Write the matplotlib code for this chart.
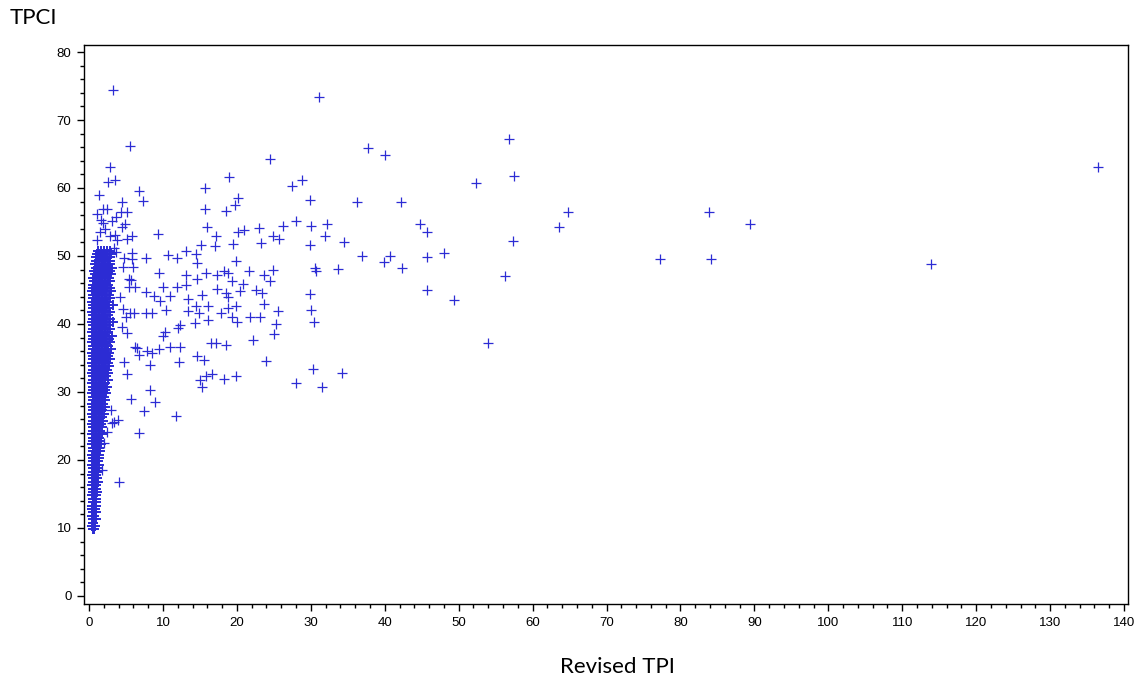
import matplotlib.pyplot as plt
from matplotlib.ticker import MultipleLocator

# Data: scattered points (Revised TPI, TPCI)
tpi = [3.2, 31.1, 5.5, 56.8, 37.7, 40.0, 24.5, 2.8, 136.5, 18.9, 28.8, 3.5, 57.5, 52.3,
       27.5, 15.7, 6.7, 1.3, 29.9, 36.3, 42.2, 7.3, 20.2, 19.8, 64.8, 83.8, 15.7, 18.5,
       32.2, 28.0, 44.8, 63.6, 89.4, 30.0, 26.2, 23.0, 16.0, 45.7, 31.9, 24.9, 25.7, 17.2,
       20.2, 21.0, 9.3, 57.3, 34.5, 23.3, 15.2, 19.5, 29.9, 17.0, 13.1, 48.0, 40.7, 36.9,
       45.7, 10.7, 14.5, 19.9, 77.3, 84.2, 39.9, 11.9, 7.7, 14.6, 113.9, 56.3, 30.6, 30.7,
       33.7, 42.3, 24.9, 18.3, 18.8, 15.8, 9.4, 13.1, 21.6, 23.7, 17.3, 19.3, 24.5, 14.6,
       13.1, 20.8, 20.4, 17.3, 11.9, 10.0, 45.7, 22.6, 23.4, 29.9, 15.3, 18.5, 18.8, 11.0,
       13.4, 49.4, 8.8, 7.7, 9.6, 14.5, 16.1, 18.8, 23.7, 19.9, 25.6, 30.0, 13.4, 10.4,
       14.9, 7.7, 8.5, 17.9, 23.1, 21.8, 19.3, 16.1, 20.0, 30.4, 25.3, 14.3, 12.3, 12.0,
       10.3, 25.0, 10.0, 22.2, 54.0, 16.5, 17.2, 18.5, 11.0, 12.3, 9.4, 7.8, 6.2, 14.6,
       8.5, 15.6, 23.9, 12.2, 8.3, 4.7, 34.2, 30.3, 15.8, 19.9, 16.6, 5.1, 15.0, 18.3,
       28.0, 31.5, 15.3, 8.3, 5.7, 8.9, 7.4, 11.8, 3.4, 3.9, 6.8, 4.1,
       2.6, 4.5, 1.1, 1.9, 2.4, 4.3, 5.1, 3.7, 3.1, 4.9, 4.5, 1.9, 5.8, 5.1, 3.5, 5.8,
       6.0, 4.6, 5.4, 6.2, 5.4, 4.2, 5.5, 4.6, 4.5, 6.5, 5.7, 6.1, 5.0, 5.1, 6.8, 3.1,
       2.0, 1.8, 2.4, 3.0, 1.1, 3.8, 5.8, 4.7, 1.5, 2.2, 2.9, 3.4, 1.6, 3.6]
tpci = [74.4, 73.4, 66.2, 67.2, 65.9, 64.9, 64.3, 63.1, 63.1, 61.6, 61.2, 61.2, 61.8, 60.7,
        60.3, 60.0, 59.6, 59.0, 58.2, 57.9, 57.9, 58.1, 58.5, 57.5, 56.5, 56.5, 56.9, 56.6,
        54.7, 55.1, 54.7, 54.3, 54.7, 54.4, 54.4, 54.1, 54.3, 53.5, 52.9, 52.9, 52.5, 52.9,
        53.5, 53.8, 53.2, 52.2, 52.1, 51.9, 51.6, 51.8, 51.6, 51.5, 50.7, 50.4, 50.0, 50.0,
        49.9, 50.1, 50.3, 49.3, 49.6, 49.6, 49.1, 49.7, 49.7, 49.0, 48.8, 47.1, 48.2, 47.8,
        48.1, 48.2, 47.9, 47.8, 47.5, 47.5, 47.5, 47.2, 47.8, 47.2, 47.2, 46.3, 46.3, 46.6,
        45.7, 45.9, 44.9, 45.1, 45.4, 45.4, 45.0, 45.0, 44.6, 44.4, 44.3, 44.6, 44.0, 44.1,
        43.7, 43.5, 44.1, 44.7, 43.4, 42.6, 42.6, 42.4, 42.9, 42.6, 41.9, 42.1, 41.9, 42.1,
        41.6, 41.6, 41.6, 41.6, 41.0, 41.0, 41.0, 40.6, 40.3, 40.3, 40.0, 40.1, 39.9, 39.4,
        38.8, 38.5, 38.2, 37.6, 37.2, 37.2, 37.2, 36.9, 36.6, 36.6, 36.3, 36.0, 36.6, 35.3,
        35.7, 34.7, 34.6, 34.4, 34.0, 34.4, 32.8, 33.4, 32.4, 32.4, 32.6, 32.6, 31.8, 31.9,
        31.3, 30.7, 30.7, 30.3, 29.0, 28.5, 27.2, 26.5, 25.6, 25.9, 24.0, 16.8,
        60.9, 57.9, 56.2, 56.9, 56.9, 56.5, 56.5, 55.7, 55.1, 54.7, 54.3, 54.9, 52.9, 52.5, 53.1, 49.6,
        48.4, 48.4, 46.6, 45.4, 45.4, 44.0, 41.6, 42.2, 39.6, 36.5, 46.5, 41.6, 41.0, 38.7, 35.4, 25.4,
        22.5, 18.5, 24.1, 27.4, 52.4, 52.4, 50.4, 49.7, 53.6, 53.9, 53.0, 51.2, 55.3, 50.6]

# Data: dense core near zero TPI, one row of TPI values per TPCI level
core_levels = [9.8, 10.3, 10.8, 11.3, 11.8, 12.3, 12.8, 13.3, 13.8, 14.3, 14.8, 15.3, 15.8,
               16.3, 16.8, 17.3, 17.8, 18.3, 18.8, 19.3, 19.8, 20.3, 20.8, 21.3, 21.8, 22.3,
               22.8, 23.3, 23.8, 24.3, 24.8, 25.3, 25.8, 26.3, 26.8, 27.3, 27.8, 28.3, 28.8,
               29.3, 29.8, 30.3, 30.8, 31.3, 31.8, 32.3, 32.8, 33.3, 33.8, 34.3, 34.8, 35.3,
               35.8, 36.3, 36.8, 37.3, 37.8, 38.3, 38.8, 39.3, 39.8, 40.3, 40.8, 41.3, 41.8,
               42.3, 42.8, 43.3, 43.8, 44.3, 44.8, 45.3, 45.8, 46.3, 46.8, 47.3, 47.8, 48.3,
               48.8, 49.3, 49.8, 50.3, 50.8, 51.3, 51.8, 52.3]
core_tpi = [
    [0.5, 0.7], [0.4, 0.8], [0.6, 0.5], [0.5, 0.9], [0.4, 0.7], [0.6, 0.9],
    [0.5, 0.8, 0.4], [0.4, 0.7, 1.0], [0.6, 0.9, 0.5], [0.5, 0.8, 1.0], [0.4, 0.7, 0.9],
    [0.6, 0.9, 1.1], [0.5, 0.8, 1.0], [0.4, 0.7, 1.0], [0.6, 0.9, 1.2], [0.5, 0.8, 1.1],
    [0.4, 0.7, 1.0], [0.6, 0.9, 1.2], [0.5, 0.8, 1.1], [0.4, 0.7, 1.0, 1.3], [0.6, 0.9, 1.2],
    [0.5, 0.8, 1.1, 1.4], [0.4, 0.7, 1.0, 1.3], [0.6, 0.9, 1.2, 1.5], [0.5, 0.8, 1.1, 1.4],
    [0.4, 0.7, 1.0, 1.3, 1.6], [0.6, 0.9, 1.2, 1.5], [0.5, 0.8, 1.1, 1.4],
    [0.4, 0.7, 1.0, 1.3, 1.7], [0.6, 0.9, 1.2, 1.5], [0.5, 0.8, 1.1, 1.4, 1.8],
    [0.4, 0.7, 1.0, 1.3, 1.6], [0.6, 0.9, 1.2, 1.5, 1.9], [0.5, 0.8, 1.1, 1.4, 1.7],
    [0.4, 0.7, 1.0, 1.3, 1.6, 2.0], [0.6, 0.9, 1.2, 1.5, 1.8], [0.5, 0.8, 1.1, 1.4, 1.7, 2.1],
    [0.4, 0.7, 1.0, 1.3, 1.6, 1.9], [0.6, 0.9, 1.2, 1.5, 1.8, 2.2],
    [0.5, 0.8, 1.1, 1.4, 1.7, 2.0], [0.4, 0.7, 1.0, 1.3, 1.6, 1.9, 2.3],
    [0.6, 0.9, 1.2, 1.5, 1.8, 2.1], [0.5, 0.8, 1.1, 1.4, 1.7, 2.0, 2.4],
    [0.4, 0.7, 1.0, 1.3, 1.6, 1.9, 2.2], [0.6, 0.9, 1.2, 1.5, 1.8, 2.1, 2.5],
    [0.5, 0.8, 1.1, 1.4, 1.7, 2.0, 2.3], [0.4, 0.7, 1.0, 1.3, 1.6, 1.9, 2.2, 2.6],
    [0.6, 0.9, 1.2, 1.5, 1.8, 2.1, 2.4], [0.5, 0.8, 1.1, 1.4, 1.7, 2.0, 2.3, 2.7],
    [0.4, 0.7, 1.0, 1.3, 1.6, 1.9, 2.2, 2.5], [0.6, 0.9, 1.2, 1.5, 1.8, 2.1, 2.4, 2.8],
    [0.5, 0.8, 1.1, 1.4, 1.7, 2.0, 2.3, 2.6], [0.4, 0.7, 1.0, 1.3, 1.6, 1.9, 2.2, 2.7],
    [0.6, 0.9, 1.2, 1.5, 1.8, 2.1, 2.4, 3.0], [0.5, 0.8, 1.1, 1.4, 1.7, 2.0, 2.3, 2.6],
    [0.4, 0.7, 1.0, 1.3, 1.6, 1.9, 2.2, 2.8], [0.6, 0.9, 1.2, 1.5, 1.8, 2.1, 2.4, 2.7],
    [0.5, 0.8, 1.1, 1.4, 1.7, 2.0, 2.3, 3.1], [0.4, 0.7, 1.0, 1.3, 1.6, 1.9, 2.2, 2.6],
    [0.6, 0.9, 1.2, 1.5, 1.8, 2.1, 2.4, 2.8], [0.5, 0.8, 1.1, 1.4, 1.7, 2.0, 2.3, 2.7],
    [0.4, 0.7, 1.0, 1.3, 1.6, 1.9, 2.2, 3.2], [0.6, 0.9, 1.2, 1.5, 1.8, 2.1, 2.4, 2.8],
    [0.5, 0.8, 1.1, 1.4, 1.7, 2.0, 2.3, 2.6], [0.4, 0.7, 1.0, 1.3, 1.6, 1.9, 2.2, 2.9],
    [0.6, 0.9, 1.2, 1.5, 1.8, 2.1, 2.4, 2.7], [0.5, 0.8, 1.1, 1.4, 1.7, 2.0, 2.3, 3.3],
    [0.4, 0.7, 1.0, 1.3, 1.6, 1.9, 2.2, 2.6], [0.6, 0.9, 1.2, 1.5, 1.8, 2.1, 2.4, 2.8],
    [0.5, 0.8, 1.1, 1.4, 1.7, 2.0, 2.3, 2.7], [0.4, 0.7, 1.0, 1.3, 1.6, 1.9, 2.2, 3.0],
    [0.6, 0.9, 1.2, 1.5, 1.8, 2.1, 2.4, 2.8], [0.5, 0.8, 1.1, 1.4, 1.7, 2.0, 2.3, 2.6],
    [0.7, 1.0, 1.3, 1.6, 1.9, 2.2, 2.5, 2.9], [0.6, 0.9, 1.2, 1.5, 1.8, 2.1, 2.4, 2.7],
    [0.8, 1.1, 1.4, 1.7, 2.0, 2.3, 2.6, 3.0], [0.7, 1.0, 1.3, 1.6, 1.9, 2.2, 2.5, 2.8],
    [0.9, 1.2, 1.5, 1.8, 2.1, 2.4, 2.7, 3.1], [0.8, 1.1, 1.4, 1.7, 2.0, 2.3, 2.6, 2.9],
    [1.0, 1.3, 1.6, 1.9, 2.2, 2.5, 2.8], [0.9, 1.2, 1.5, 1.8, 2.1, 2.4, 2.8],
    [1.1, 1.4, 1.7, 2.0, 2.3, 2.6, 3.0], [1.2, 1.6, 2.0, 2.4, 2.8]]

core_x = [x for xs in core_tpi for x in xs]
core_y = [lvl for lvl, xs in zip(core_levels, core_tpi) for _ in xs]

blue = '#2c2cd4'

fig = plt.figure(figsize=(11.38, 6.82), dpi=100)
ax = fig.add_axes([84 / 1138, 1 - 604 / 682, 1044 / 1138, 559 / 682])

ax.plot(core_x, core_y, linestyle='none', marker='+', color=blue, markersize=6.5, mew=1.4)
ax.plot(tpi, tpci, linestyle='none', marker='+', color=blue, markersize=6.5, mew=0.9)

ax.set_xlim(-0.68, 140.54)
ax.set_ylim(-1.18, 81.03)
ax.xaxis.set_major_locator(MultipleLocator(10))
ax.xaxis.set_minor_locator(MultipleLocator(2))
ax.yaxis.set_major_locator(MultipleLocator(10))
ax.yaxis.set_minor_locator(MultipleLocator(2))
ax.tick_params(which='major', direction='out', length=5, width=1, labelsize=9.5, pad=4)
ax.tick_params(which='minor', direction='out', length=3, width=1)
for lab in ax.get_xticklabels() + ax.get_yticklabels():
    lab.set_family('Liberation Sans')
for s in ax.spines.values():
    s.set_linewidth(1)

fig.text(10 / 1138, 1 - 18 / 682, 'TPCI', fontsize=16, family='Lato', va='center', ha='left')
fig.text(617 / 1138, 1 - 667 / 682, 'Revised TPI', fontsize=16, family='Lato',
         va='center', ha='center')

fig.savefig('out.png', dpi=100)
